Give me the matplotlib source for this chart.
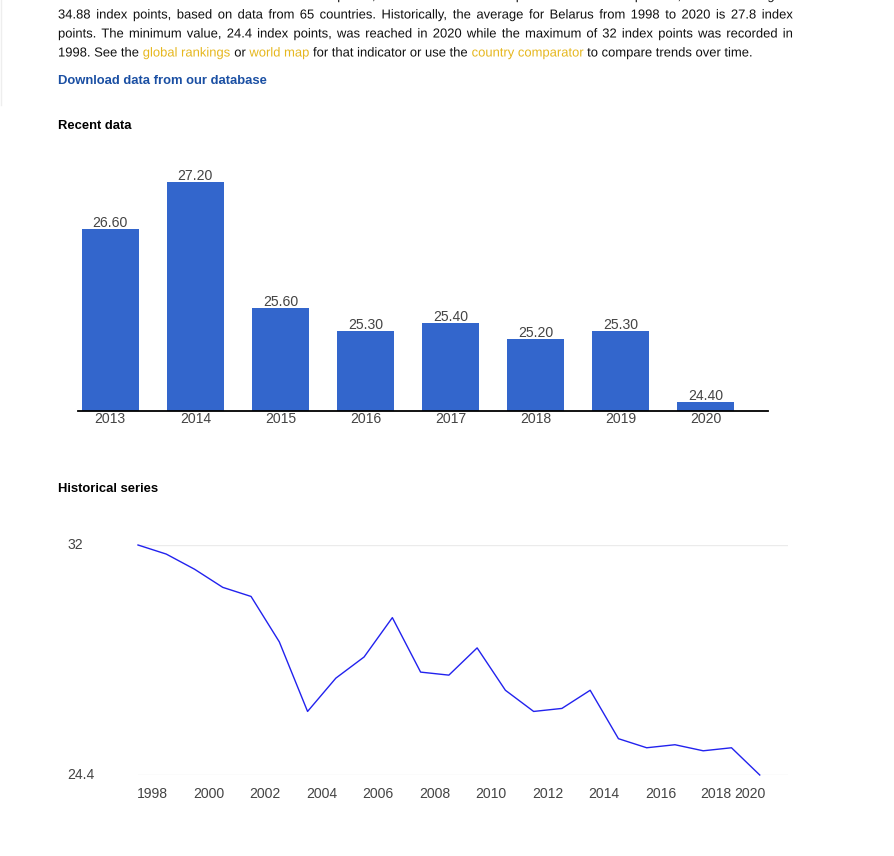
import matplotlib
matplotlib.use("Agg")
import matplotlib.pyplot as plt
import matplotlib.transforms as mtransforms
import matplotlib.patheffects as pe
from matplotlib.lines import Line2D
import numpy as np

# ---------------- data ----------------
recent_years = ["2013", "2014", "2015", "2016", "2017", "2018", "2019", "2020"]
recent_values = [26.6, 27.2, 25.6, 25.3, 25.4, 25.2, 25.3, 24.4]

hist_years = list(range(1998, 2021))
hist_values = [32.0, 31.7, 31.2, 30.6, 30.3, 28.8, 26.5, 27.6, 28.3, 29.6, 27.8, 27.7,
               28.6, 27.2, 26.5, 26.6, 27.2, 25.6, 25.3, 25.4, 25.2, 25.3, 24.4]
hist_tick_labels = ["1998", "2000", "2002", "2004", "2006", "2008", "2010",
                    "2012", "2014", "2016", "2018", "2020"]
hist_ylabels = ["24.4", "32"]

para_lines = [
    "Gini index: The latest value from 2020 is 24.4 index points, a decline from 25.3 index points in 2019. In comparison, the world average is",
    "34.88 index points, based on data from 65 countries. Historically, the average for Belarus from 1998 to 2020 is 27.8 index",
    "points. The minimum value, 24.4 index points, was reached in 2020 while the maximum of 32 index points was recorded in",
]
last_line = [("1998. See the", "k"), ("global rankings", "y"), ("or", "k"), ("world map", "y"),
             ("for that indicator or use the", "k"), ("country comparator", "y"),
             ("to compare trends over time.", "k")]

# ---------------- style ----------------
W, H = 895, 856
FONT = "Liberation Sans"
PX = 72 / 100.0  # points per pixel at dpi=100
BODY = "#111111"
LINK = "#e6b71e"
BLUE_LINK = "#1a4fa3"
BAR = "#3366cc"
GRAY = "#444444"
PE = [pe.Normal()]

fig = plt.figure(figsize=(W / 100, H / 100), dpi=100)
fig.patch.set_facecolor("white")
renderer = fig.canvas.get_renderer()


def fx(x):
    return x / W


def fy(y):
    return 1 - y / H


def word_width(s, size, weight="normal"):
    t = fig.text(0, 0, s, fontsize=size, family=FONT, weight=weight)
    w = t.get_window_extent(renderer).width
    t.remove()
    return w


body_size = 13 * PX
left, right = 58, 793
space_w = word_width("a a", body_size) - 2 * word_width("a", body_size)


def justified(line, baseline):
    words = line.split(" ")
    widths = [word_width(w, body_size) for w in words]
    gap = (right - left - sum(widths)) / (len(words) - 1)
    x = left
    for w, wd in zip(words, widths):
        fig.text(fx(x), fy(baseline), w, fontsize=body_size, family=FONT,
                 color=BODY, va="baseline", ha="left", path_effects=PE)
        x += wd + gap


baselines = [-0.5, 18.5, 37.5]
for line, b in zip(para_lines, baselines):
    justified(line, b)

x = left
for seg, c in last_line:
    col = LINK if c == "y" else BODY
    fig.text(fx(x), fy(56.5), seg, fontsize=body_size, family=FONT, color=col,
             va="baseline", ha="left", path_effects=PE)
    x += word_width(seg, body_size) + space_w

fig.text(fx(58), fy(84), "Download data from our database", fontsize=13 * PX,
         family=FONT, weight="bold", color=BLUE_LINK, va="baseline")
fig.text(fx(58), fy(129), "Recent data", fontsize=13 * PX, family=FONT,
         weight="bold", color="#000000", va="baseline")
fig.text(fx(58), fy(492), "Historical series", fontsize=13 * PX, family=FONT,
         weight="bold", color="#000000", va="baseline")

# faint page edge
fig.add_artist(Line2D([fx(1), fx(1)], [fy(0), fy(105)], color="#eeeeee", lw=1))

# ---------------- bar chart ----------------
ax1 = fig.add_axes([fx(78), fy(411), (768 - 78) / W, (411 - 165) / H])
xpos = np.arange(len(recent_values))
ax1.bar(xpos, recent_values, width=0.67, color=BAR, zorder=2)
ax1.set_xlim(-0.38, 7.735)
ax1.set_ylim(24.285, 27.415)
for s in ["top", "right", "left"]:
    ax1.spines[s].set_visible(False)
ax1.spines["bottom"].set_color("#000000")
ax1.spines["bottom"].set_linewidth(1.3)
ax1.spines["bottom"].set_zorder(3)
ax1.set_yticks([])
ax1.set_xticks(xpos)
ax1.set_xticklabels(recent_years, fontsize=14 * PX, family=FONT, color=GRAY)
ax1.tick_params(axis="x", length=0, pad=1)
for xi, v in zip(xpos, recent_values):
    ax1.annotate(f"{v:.2f}", (xi, v), xytext=(0, 2), textcoords="offset pixels",
                 ha="center", va="baseline", fontsize=14 * PX, family=FONT,
                 color=GRAY, annotation_clip=False)

# ---------------- line chart ----------------
ax2 = fig.add_axes([fx(138), fy(775), 650 / W, 230 / H])
ax2.set_xlim(1998, 2021)
ax2.set_ylim(24.4, 32)
for yv in [24.4, 32]:
    ax2.axhline(yv, color="#ebebeb", lw=1, zorder=1)
ax2.plot(hist_years, hist_values, color="#2222ee", lw=1.0, zorder=3, clip_on=False)
for s in ax2.spines.values():
    s.set_visible(False)
ax2.set_xticks([])
ax2.set_yticks([])

yl_trans = mtransforms.blended_transform_factory(fig.transFigure, ax2.transData)
for lab in hist_ylabels:
    ax2.text(fx(67), float(lab), lab, transform=yl_trans, ha="left", va="center",
             fontsize=14 * PX, family=FONT, color=GRAY)

xl_trans = mtransforms.blended_transform_factory(ax2.transData, fig.transFigure)
tick_pos = [int(l) + 0.5 for l in hist_tick_labels]
tick_pos[-2] = int(hist_tick_labels[-2]) + 0.45
tick_pos[-1] = int(hist_tick_labels[-1]) - 0.35
for p, lab in zip(tick_pos, hist_tick_labels):
    ax2.text(p, fy(794), lab, transform=xl_trans, ha="center", va="center",
             fontsize=14 * PX, family=FONT, color=GRAY)

fig.savefig("out.png", dpi=100, facecolor="white")
